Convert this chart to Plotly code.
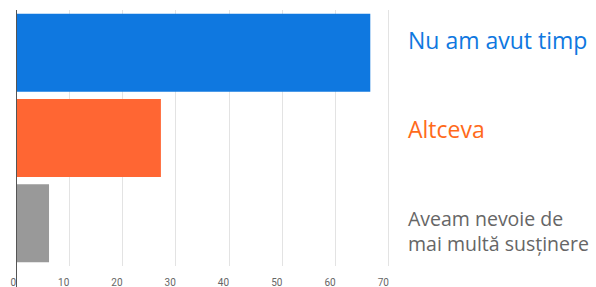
import plotly.graph_objects as go

categories = ["Nu am avut timp", "Altceva", "Aveam nevoie de<br>mai multă susținere"]
values = [66.5, 27.2, 6.2]
colors = ["#0f78e0", "#ff6633", "#999999"]
label_colors = ["#0f78e0", "#ff6a1a", "#666666"]
label_sizes = [23, 23, 19.5]
label_yshift = [13, 9, -8]
tick_vals = [0, 10, 20, 30, 40, 50, 60, 70]

fig = go.Figure()
fig.add_trace(go.Bar(
    x=values, y=categories, orientation="h",
    marker=dict(color=colors, line=dict(width=0)),
    hoverinfo="skip",
))

annotations = []
for c, col, sz, ys in zip(categories, label_colors, label_sizes, label_yshift):
    annotations.append(dict(
        x=1, xref="paper", y=c, yref="y", xanchor="left", yanchor="middle",
        xshift=16, yshift=ys, text=c, showarrow=False, align="left",
        font=dict(family="Open Sans, Noto Sans, sans-serif", size=sz, color=col),
    ))

fig.update_layout(
    width=596, height=287,
    margin=dict(l=16, r=206, t=10, b=21, autoexpand=False),
    plot_bgcolor="white", paper_bgcolor="white",
    showlegend=False, bargap=0.085,
    annotations=annotations,
    shapes=[dict(type="line", xref="x", x0=0, x1=0, yref="paper", y0=-0.09, y1=1.0,
                 line=dict(color="#555555", width=2))],
    xaxis=dict(
        range=[0, 70.2], tickvals=tick_vals, ticktext=[str(v) for v in tick_vals],
        ticklabelposition="outside left", ticklabelstandoff=9,
        showgrid=True, gridcolor="#e3e3e3", gridwidth=1,
        zeroline=False, showline=False, automargin=False,
        tickfont=dict(family="Roboto, Arial, sans-serif", size=10, color="#666666"),
        fixedrange=True,
    ),
    yaxis=dict(
        autorange="reversed", showticklabels=False, showgrid=False, zeroline=False,
        showline=False, fixedrange=True, automargin=False,
    ),
)

fig.write_html("out.html", config={"displayModeBar": False},
               post_script="document.body.style.margin='0';document.body.style.overflow='hidden';")
